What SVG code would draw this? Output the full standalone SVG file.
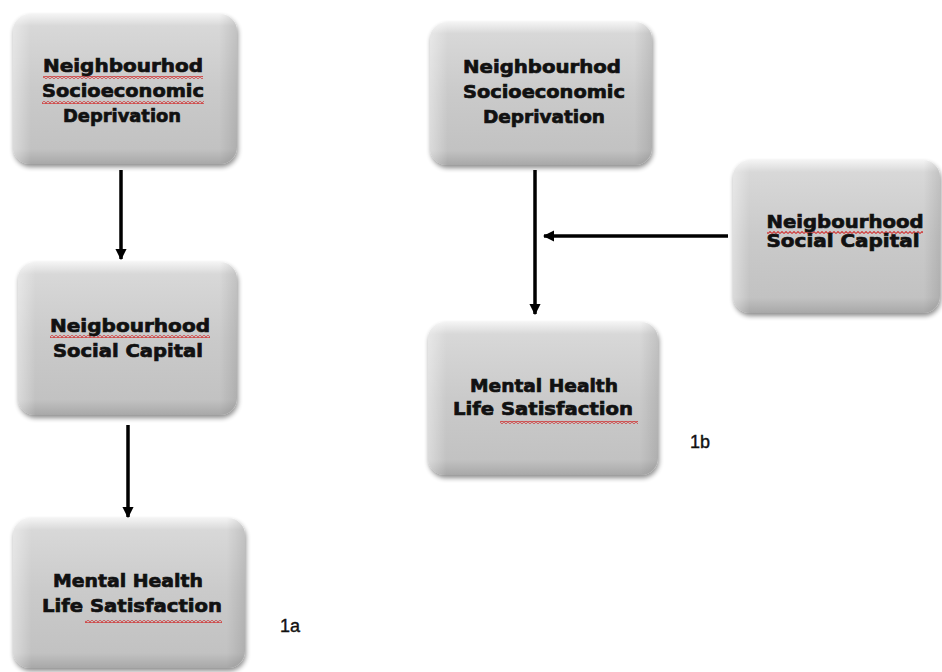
<svg xmlns="http://www.w3.org/2000/svg" width="942" height="672" viewBox="0 0 942 672">
  <defs>
    <linearGradient id="boxfill" x1="0" y1="0" x2="0" y2="1">
      <stop offset="0" stop-color="#f4f4f4"/>
      <stop offset="0.08" stop-color="#d8d8d8"/>
      <stop offset="0.5" stop-color="#cacaca"/>
      <stop offset="0.9" stop-color="#c2c2c2"/>
      <stop offset="1" stop-color="#a8a8a8"/>
    </linearGradient>
    <linearGradient id="sidehl" x1="0" y1="0" x2="1" y2="0">
      <stop offset="0" stop-color="#ffffff" stop-opacity="0.4"/>
      <stop offset="0.08" stop-color="#ffffff" stop-opacity="0"/>
      <stop offset="0.92" stop-color="#000000" stop-opacity="0"/>
      <stop offset="1" stop-color="#000000" stop-opacity="0.1"/>
    </linearGradient>
    <filter id="shadow" x="-10%" y="-10%" width="125%" height="130%">
      <feGaussianBlur in="SourceAlpha" stdDeviation="2.5"/>
      <feOffset dx="1" dy="3" result="b"/>
      <feComponentTransfer><feFuncA type="linear" slope="0.45"/></feComponentTransfer>
      <feMerge><feMergeNode/><feMergeNode in="SourceGraphic"/></feMerge>
    </filter>
    <pattern id="squig" width="4" height="3" patternUnits="userSpaceOnUse">
      <polyline points="0,2.5 2,0.5 4,2.5" fill="none" stroke="#d03c3c" stroke-width="1.1"/>
    </pattern>
    <marker id="arrow" viewBox="0 0 10 10" refX="9" refY="5" markerWidth="3.4" markerHeight="3.2" orient="auto" markerUnits="strokeWidth">
      <path d="M0,0 L10,5 L0,10 z" fill="#000"/>
    </marker>
  </defs>
  <style>
    .box { fill: url(#boxfill); filter: url(#shadow); }
    .hl { fill: url(#sidehl); }
    .t { font-family: "DejaVu Sans", "Liberation Sans", Arial, sans-serif; font-weight: bold; font-size: 18px; fill: #111; stroke: #111; stroke-width: 0.7; text-anchor: middle; }
    .lbl { font-family: "Liberation Sans", Arial, sans-serif; font-size: 18px; fill: #111; stroke: #111; stroke-width: 0.4; }
    .sq { fill: url(#squig); }
    .conn { stroke: #000; stroke-width: 3.5; fill: none; marker-end: url(#arrow); }
  </style>
  <rect width="942" height="672" fill="#ffffff"/>

  <g id="connectors">
    <line class="conn" x1="121" y1="170" x2="121" y2="259"/>
    <line class="conn" x1="128" y1="425" x2="128" y2="517"/>
    <line class="conn" x1="535" y1="170" x2="535" y2="314"/>
    <line class="conn" x1="728" y1="236" x2="544" y2="236"/>
  </g>

  <g id="a-deprivation">
    <rect class="box" x="13" y="14" width="224" height="150" rx="17"/>
    <rect class="hl" x="13" y="14" width="224" height="150" rx="17"/>
    <rect class="sq" x="43" y="76" width="160" height="3"/>
    <rect class="sq" x="42" y="101" width="162" height="3"/>
    <text class="t" x="123" y="72" textLength="160" lengthAdjust="spacingAndGlyphs">Neighbourhod</text>
    <text class="t" x="123" y="97" textLength="162" lengthAdjust="spacingAndGlyphs">Socioeconomic</text>
    <text class="t" x="122" y="122" textLength="118" lengthAdjust="spacingAndGlyphs">Deprivation</text>
  </g>

  <g id="a-social-capital">
    <rect class="box" x="18" y="262" width="219" height="153" rx="17"/>
    <rect class="hl" x="18" y="262" width="219" height="153" rx="17"/>
    <rect class="sq" x="50" y="335" width="160" height="3"/>
    <text class="t" x="130" y="332" textLength="160" lengthAdjust="spacingAndGlyphs">Neigbourhood</text>
    <text class="t" x="128" y="357" textLength="150" lengthAdjust="spacingAndGlyphs">Social Capital</text>
  </g>

  <g id="a-mental-health">
    <rect class="box" x="13" y="518" width="232" height="150" rx="17"/>
    <rect class="hl" x="13" y="518" width="232" height="150" rx="17"/>
    <rect class="sq" x="85" y="620" width="137" height="3"/>
    <text class="t" x="128" y="587" textLength="150" lengthAdjust="spacingAndGlyphs">Mental Health</text>
    <text class="t" x="132" y="612" textLength="180" lengthAdjust="spacingAndGlyphs">Life Satisfaction</text>
  </g>

  <g id="b-deprivation">
    <rect class="box" x="430" y="22" width="222" height="143" rx="17"/>
    <rect class="hl" x="430" y="22" width="222" height="143" rx="17"/>
    <text class="t" x="542" y="73" textLength="158" lengthAdjust="spacingAndGlyphs">Neighbourhod</text>
    <text class="t" x="544" y="98" textLength="162" lengthAdjust="spacingAndGlyphs">Socioeconomic</text>
    <text class="t" x="544" y="123" textLength="122" lengthAdjust="spacingAndGlyphs">Deprivation</text>
  </g>

  <g id="b-social-capital">
    <rect class="box" x="733" y="160" width="207" height="153" rx="17"/>
    <rect class="hl" x="733" y="160" width="207" height="153" rx="17"/>
    <rect class="sq" x="767" y="231" width="156" height="3"/>
    <text class="t" x="845" y="228" textLength="157" lengthAdjust="spacingAndGlyphs">Neigbourhood</text>
    <text class="t" x="843" y="247" textLength="153" lengthAdjust="spacingAndGlyphs">Social Capital</text>
  </g>

  <g id="b-mental-health">
    <rect class="box" x="428" y="322" width="230" height="153" rx="17"/>
    <rect class="hl" x="428" y="322" width="230" height="153" rx="17"/>
    <rect class="sq" x="500" y="421" width="138" height="3"/>
    <text class="t" x="544" y="392" textLength="148" lengthAdjust="spacingAndGlyphs">Mental Health</text>
    <text class="t" x="543" y="415" textLength="180" lengthAdjust="spacingAndGlyphs">Life Satisfaction</text>
  </g>

  <g id="labels">
    <text class="lbl" x="280" y="632">1a</text>
    <text class="lbl" x="690" y="448">1b</text>
  </g>
</svg>
